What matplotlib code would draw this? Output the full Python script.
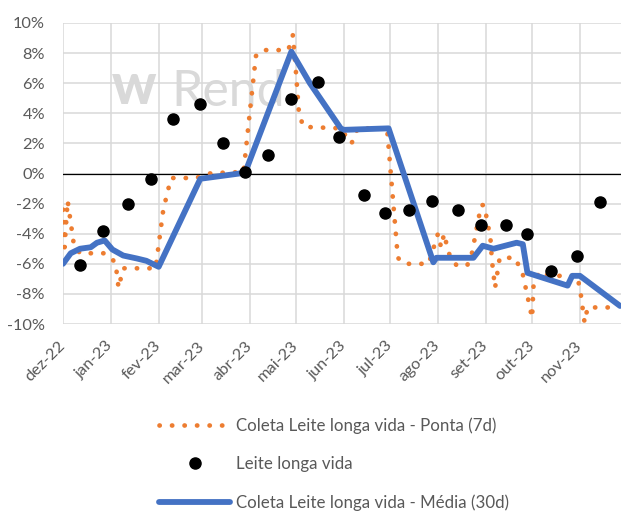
import pandas as pd
import matplotlib
matplotlib.use('Agg')
import matplotlib.pyplot as plt
from matplotlib.ticker import FuncFormatter

# ── Dados (variacao %) ───────────────────────────────
ponta_datas = ['2022-12-01', '2022-12-02', '2022-12-04', '2022-12-08', '2022-12-12',
               '2022-12-28', '2023-01-04', '2023-01-06', '2023-01-09', '2023-01-30',
               '2023-02-04', '2023-02-09', '2023-02-25', '2023-03-06', '2023-03-14',
               '2023-03-28', '2023-04-01', '2023-04-05', '2023-04-09', '2023-04-26',
               '2023-04-29', '2023-05-01', '2023-05-03', '2023-05-06', '2023-05-30',
               '2023-06-03', '2023-06-06', '2023-06-10', '2023-06-29', '2023-07-06',
               '2023-07-10', '2023-07-26', '2023-08-01', '2023-08-03', '2023-08-05',
               '2023-08-07', '2023-08-08', '2023-08-13', '2023-08-20', '2023-08-23',
               '2023-08-29', '2023-08-31', '2023-09-02', '2023-09-04', '2023-09-05',
               '2023-09-07', '2023-09-10', '2023-09-20', '2023-09-25', '2023-10-01',
               '2023-10-02', '2023-10-06', '2023-10-12', '2023-10-30', '2023-11-01',
               '2023-11-04', '2023-11-06', '2023-11-27']
ponta_valores = [-2.4, -4.9, -1.8, -4.7, -5.3,
                 -5.3, -5.9, -7.6, -6.3, -6.3,
                 -2.4, -0.3, -0.3, 0.0, 0.05,
                 0.1, 4.0, 7.8, 8.2, 8.2,
                 9.2, 6.7, 3.9, 3.1, 3.0,
                 2.4, 2.0, 3.0, 3.0, -5.6,
                 -6.0, -6.0, -4.0, -4.9, -4.0,
                 -4.9, -5.3, -6.1, -6.1, -5.3,
                 -2.1, -2.1, -3.2, -4.3, -5.8,
                 -7.6, -5.6, -5.6, -6.7, -9.6,
                 -7.3, -6.5, -6.8, -6.8, -7.6,
                 -9.9, -8.9, -8.9]

media_datas = ['2022-12-01', '2022-12-06', '2022-12-12', '2022-12-19', '2022-12-23',
               '2022-12-28', '2023-01-02', '2023-01-09', '2023-01-18', '2023-01-24',
               '2023-02-01', '2023-02-28', '2023-03-29', '2023-04-28', '2023-05-10',
               '2023-05-19', '2023-05-30', '2023-06-01', '2023-06-30', '2023-07-29',
               '2023-07-31', '2023-08-24', '2023-08-30', '2023-09-06', '2023-09-21',
               '2023-09-25', '2023-09-28', '2023-10-24', '2023-10-27', '2023-11-01',
               '2023-11-27']
media_valores = [-6.0, -5.3, -5.0, -4.9, -4.6,
                 -4.45, -5.05, -5.45, -5.65, -5.8,
                 -6.2, -0.35, 0.05, 8.1, 6.0,
                 4.65, 3.0, 2.9, 3.0, -5.9,
                 -5.6, -5.6, -4.8, -5.0, -4.6,
                 -4.7, -6.6, -7.45, -6.8, -6.8,
                 -8.8]

leite_datas = ['2022-12-12', '2022-12-27', '2023-01-12', '2023-01-27', '2023-02-10',
               '2023-02-28', '2023-03-15', '2023-03-29', '2023-04-13', '2023-04-28',
               '2023-05-15', '2023-05-29', '2023-06-14', '2023-06-28', '2023-07-13',
               '2023-07-28', '2023-08-14', '2023-08-29', '2023-09-14', '2023-09-28',
               '2023-10-13', '2023-10-30', '2023-11-14']
leite_valores = [-6.1, -3.85, -2.05, -0.35, 3.65,
                 4.6, 2.05, 0.07, 1.25, 4.95,
                 6.05, 2.4, -1.45, -2.65, -2.45,
                 -1.85, -2.4, -3.4, -3.45, -4.05,
                 -6.45, -5.5, -1.9]

meses = pd.date_range('2022-12-01', '2023-11-01', freq='MS')
meses_rotulos = ['dez-22', 'jan-23', 'fev-23', 'mar-23', 'abr-23', 'mai-23',
                 'jun-23', 'jul-23', 'ago-23', 'set-23', 'out-23', 'nov-23']

COR_PONTA = '#ED7D31'
COR_MEDIA = '#4472C4'
COR_TEXTO = '#595959'
COR_GRADE = '#D9D9D9'

plt.rcParams['font.family'] = ['Lato', 'DejaVu Sans']

fig = plt.figure(figsize=(6.21, 5.13), dpi=100)
ax = fig.add_axes([63 / 621, 189 / 513, 558 / 621, 301 / 513])

# ── Grade e eixos ──
for s in ax.spines.values():
    s.set_visible(False)
ax.set_axisbelow(True)
ax.grid(True, color=COR_GRADE, linewidth=1.1)
ax.axhline(0, color='black', linewidth=0.9, zorder=1.5)

# ── Marca d'agua ──
ax.text(0.087, 0.77, 'W', transform=ax.transAxes, fontsize=30, fontweight='heavy',
        color='#D9D9D9', va='center', ha='left', zorder=1)
ax.text(0.195, 0.77, 'Rend', transform=ax.transAxes, fontsize=36,
        color='#D9D9D9', va='center', ha='left', zorder=1)

# ── Series ──
ax.plot(pd.to_datetime(ponta_datas), ponta_valores, color=COR_PONTA, linewidth=3.4,
        linestyle=(0, (0.05, 2.6)), dash_capstyle='round', zorder=2,
        label='Coleta Leite longa vida - Ponta (7d)')
ax.plot(pd.to_datetime(leite_datas), leite_valores, linestyle='none', marker='o',
        markersize=8, color='black', zorder=4, label='Leite longa vida')
ax.plot(pd.to_datetime(media_datas), media_valores, color=COR_MEDIA, linewidth=4.2,
        solid_capstyle='round', zorder=3, label='Coleta Leite longa vida - Média (30d)')

ax.set_ylim(-10, 10)
ax.set_yticks(range(-10, 11, 2))
ax.yaxis.set_major_formatter(FuncFormatter(lambda v, p: f'{v:.0f}%'))
ax.set_xlim(pd.Timestamp('2022-12-01'), pd.Timestamp('2023-11-27 15:00'))
ax.set_xticks(meses)
ax.set_xticklabels(meses_rotulos, rotation=45, ha='right', va='center',
                   rotation_mode='anchor')
ax.tick_params(axis='both', length=0, colors=COR_TEXTO, labelsize=11.8)
ax.tick_params(axis='y', pad=13)
ax.tick_params(axis='x', pad=14)

# ── Legenda ──
leg = fig.legend(loc='upper center', bbox_to_anchor=(334 / 621, 1 - 412 / 513),
                 ncol=1, frameon=False, fontsize=12.2, labelcolor=COR_TEXTO,
                 handlelength=4.2, labelspacing=1.33, handletextpad=0.35,
                 borderaxespad=0, borderpad=0.3)

plt.savefig('out.png', dpi=100)
